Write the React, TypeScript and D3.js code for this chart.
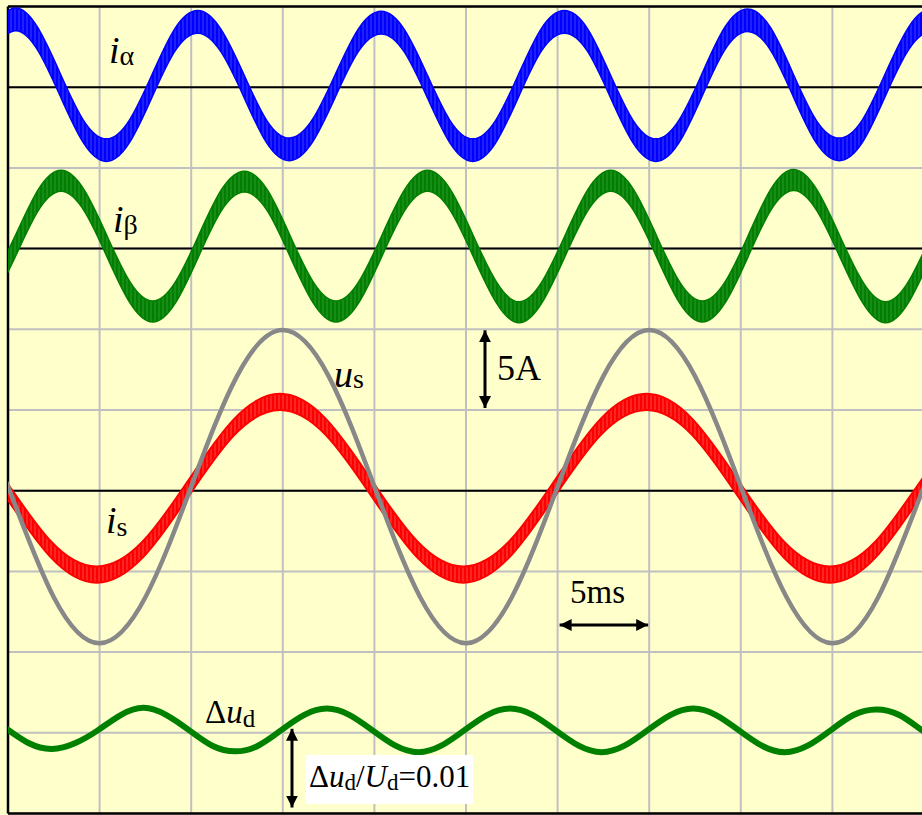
import React from "react";
import * as d3 from "d3";

const W = 922;
const H = 815;

// Axis grid: 10 divisions of 5 ms horizontally, 10 divisions vertically
const timeTicksMs = [0, 5, 10, 15, 20, 25, 30, 35, 40, 45, 50];
const divisionTicks = [0, 1, 2, 3, 4, 5, 6, 7, 8, 9, 10];
const blackBaselines = [9, 7, 4];

// Channel zero levels (in divisions)
const iAlphaBase = 9;
const iBetaBase = 7;
const sBase = 4;
const dudBase = 1;

// i_alpha (divisions), samples every 1.25 ms starting at -0.88 ms
const iAlphaStart = -0.88;
const iAlphaStep = 1.25;
const iAlphaValues = [
  0.6, 0.84, 0.6, 0.02, -0.55, -0.78, -0.55, 0.02,
  0.59, 0.81, 0.58, 0.02, -0.55, -0.77, -0.54, 0.02,
  0.58, 0.8, 0.58, 0.02, -0.55, -0.78, -0.55, 0.02,
  0.59, 0.81, 0.59, 0.02, -0.55, -0.78, -0.55, 0.02,
  0.6, 0.83, 0.6, 0.02, -0.55, -0.77, -0.55, 0.02,
  0.59, 0.82, 0.59,
];
const iAlphaRipple = 0.14;

// i_beta (divisions), samples every 1.25 ms starting at -0.85 ms
const iBetaStart = -0.85;
const iBetaStep = 1.25;
const iBetaValues = [
  -0.54, 0.03, 0.6, 0.84, 0.6, 0.03, -0.54, -0.78,
  -0.54, 0.03, 0.6, 0.83, 0.6, 0.03, -0.54, -0.78,
  -0.54, 0.03, 0.6, 0.84, 0.6, 0.03, -0.54, -0.79,
  -0.54, 0.03, 0.6, 0.84, 0.6, 0.03, -0.54, -0.78,
  -0.54, 0.03, 0.61, 0.85, 0.6, 0.03, -0.54, -0.79,
  -0.54, 0.03, 0.6,
];
const iBetaRipple = 0.13;

// i_s (divisions), samples every 2.5 ms starting at -2.65 ms
const isStart = -2.65;
const isStep = 2.5;
const isValues = [
  0.79, 0.03, -0.73, -1.04, -0.73, 0.03, 0.79, 1.1,
  0.79, 0.03, -0.73, -1.04, -0.73, 0.03, 0.79, 1.1,
  0.79, 0.03, -0.73, -1.04, -0.73, 0.03, 0.79,
];
const isRipple = 0.1;

// u_s (divisions), samples every 2.5 ms starting at -2.5 ms
const usStart = -2.5;
const usStep = 2.5;
const usValues = [
  1.42, 0.05, -1.32, -1.89, -1.32, 0.05, 1.42, 1.99,
  1.42, 0.05, -1.32, -1.89, -1.32, 0.05, 1.42, 1.99,
  1.42, 0.05, -1.32, -1.89, -1.32, 0.05, 1.42,
];

// delta u_d (divisions), samples every 1.25 ms starting at -1.35 ms
const dudStart = -1.35;
const dudStep = 1.25;
const dudValues = [
  0.2, 0.05, -0.13, -0.2, -0.13, 0.03, 0.22, 0.31,
  0.22, 0.03, -0.16, -0.23, -0.16, 0.03, 0.22, 0.3,
  0.22, 0.03, -0.16, -0.24, -0.16, 0.03, 0.22, 0.3,
  0.22, 0.03, -0.16, -0.24, -0.16, 0.03, 0.22, 0.3,
  0.22, 0.03, -0.16, -0.24, -0.16, 0.03, 0.22, 0.29,
  0.22, 0.03, -0.16,
];

type Pt = { t: number; v: number };
const toPoints = (start: number, step: number, vals: number[], base: number): Pt[] =>
  vals.map((v, i) => ({ t: start + i * step, v: base + v }));

const FONT = "'Liberation Serif', 'Times New Roman', serif";

export default function App() {
  const x = d3.scaleLinear().domain([0, 50]).range([8, 924]);
  const y = d3.scaleLinear().domain([0, 10]).range([813.5, 6.5]);

  const line = d3
    .line<Pt>()
    .x((d) => x(d.t))
    .y((d) => y(d.v))
    .curve(d3.curveNatural);

  const band = (ripple: number) =>
    d3
      .area<Pt>()
      .x((d) => x(d.t))
      .y0((d) => y(d.v - ripple))
      .y1((d) => y(d.v + ripple))
      .curve(d3.curveNatural);

  const alphaPts = toPoints(iAlphaStart, iAlphaStep, iAlphaValues, iAlphaBase);
  const betaPts = toPoints(iBetaStart, iBetaStep, iBetaValues, iBetaBase);
  const isPts = toPoints(isStart, isStep, isValues, sBase);
  const usPts = toPoints(usStart, usStep, usValues, sBase);
  const dudPts = toPoints(dudStart, dudStep, dudValues, dudBase);

  const x0 = x(0);
  const x1 = x(50);
  const yTop = y(10);
  const yBot = y(0);

  return (
    <svg
      width={W}
      height={H}
      viewBox={`0 0 ${W} ${H}`}
      style={{ position: "absolute", left: 0, top: 0, display: "block" }}
      fontFamily={FONT}
    >
      <defs>
        <clipPath id="frame">
          <rect x={x0} y={yTop} width={x1 - x0} height={yBot - yTop} />
        </clipPath>
        <pattern id="ripB" width={4} height={20} patternUnits="userSpaceOnUse">
          <rect width={4} height={20} fill="#0000ff" />
          <rect x={2.6} width={0.8} height={20} fill="#4c4cff" />
        </pattern>
        <pattern id="ripG" width={4} height={20} patternUnits="userSpaceOnUse">
          <rect width={4} height={20} fill="#007f00" />
          <rect x={2.6} width={0.8} height={20} fill="#3d9d3d" />
        </pattern>
        <pattern id="ripR" width={4} height={20} patternUnits="userSpaceOnUse">
          <rect width={4} height={20} fill="#ff0000" />
          <rect x={2.6} width={0.8} height={20} fill="#ff5a5a" />
        </pattern>
        <marker
          id="head"
          viewBox="0 0 12 12"
          refX={12}
          refY={6}
          markerWidth={12}
          markerHeight={12}
          markerUnits="userSpaceOnUse"
          orient="auto-start-reverse"
        >
          <path d="M0,0 L12,6 L0,12 z" fill="#000" />
        </marker>
      </defs>

      <rect x={0} y={0} width={W} height={H} fill="#ffffcc" />

      {/* grid */}
      {timeTicksMs.map((t) => (
        <line key={"v" + t} x1={x(t)} x2={x(t)} y1={yTop} y2={yBot} stroke="#c0c0c0" strokeWidth={2} />
      ))}
      {divisionTicks.map((d) => (
        <line key={"h" + d} x1={x0} x2={x1} y1={y(d)} y2={y(d)} stroke="#c0c0c0" strokeWidth={2} />
      ))}
      {blackBaselines.map((d) => (
        <line key={"b" + d} x1={x0} x2={x1} y1={y(d)} y2={y(d)} stroke="#000" strokeWidth={2} />
      ))}
      {/* frame */}
      <line x1={x0} x2={x1} y1={yTop} y2={yTop} stroke="#000" strokeWidth={2.5} />
      <line x1={x0} x2={x1} y1={yBot} y2={yBot} stroke="#000" strokeWidth={2.5} />
      <line x1={x0} x2={x0} y1={yTop} y2={yBot} stroke="#000" strokeWidth={2.5} />

      <g clipPath="url(#frame)">
        <path d={band(iAlphaRipple)(alphaPts) || ""} fill="url(#ripB)" stroke="#0000ff" strokeWidth={1.5} />
        <path d={band(iBetaRipple)(betaPts) || ""} fill="url(#ripG)" stroke="#007f00" strokeWidth={1.5} />
        <path d={band(isRipple)(isPts) || ""} fill="url(#ripR)" stroke="#ff0000" strokeWidth={2} />
        <path d={line(usPts) || ""} fill="none" stroke="#888888" strokeWidth={4.5} />
        <path d={line(dudPts) || ""} fill="none" stroke="#008000" strokeWidth={6} />
      </g>

      {/* labels */}
      <text x={109} y={63} fontSize={38} fill="#000">
        <tspan fontStyle="italic">i</tspan>
        <tspan fontSize={28} dy={2}>α</tspan>
      </text>
      <text x={113} y={232} fontSize={38} fill="#000">
        <tspan fontStyle="italic">i</tspan>
        <tspan fontSize={28} dy={2}>β</tspan>
      </text>
      <text x={334} y={387} fontSize={38} fill="#000">
        <tspan fontStyle="italic">u</tspan>
        <tspan fontSize={28} dy={1}>s</tspan>
      </text>
      <text x={106} y={533} fontSize={38} fill="#000">
        <tspan fontStyle="italic">i</tspan>
        <tspan fontSize={28} dy={3}>s</tspan>
      </text>
      <text x={497} y={380} fontSize={36} fill="#000">5A</text>
      <text x={570} y={603} fontSize={33} fill="#000">5ms</text>
      <text x={205} y={723} fontSize={33} fill="#000">
        Δ<tspan fontStyle="italic">u</tspan>
        <tspan fontSize={25} dy={4}>d</tspan>
      </text>

      <rect x={306} y={755} width={167} height={49} fill="#ffffff" />
      <text x={309} y={787} fontSize={31} fill="#000">
        Δ<tspan fontStyle="italic">u</tspan>
        <tspan fontSize={23} dy={3}>d</tspan>
        <tspan dy={-3}>/</tspan>
        <tspan fontStyle="italic">U</tspan>
        <tspan fontSize={23} dy={3}>d</tspan>
        <tspan dy={-3}>=0.01</tspan>
      </text>

      {/* scale arrows */}
      <line
        x1={485} x2={485} y1={y(6) + 1} y2={y(5) - 2}
        stroke="#000" strokeWidth={3}
        markerStart="url(#head)" markerEnd="url(#head)"
      />
      <line
        x1={x(30) + 2} x2={x(35) - 1} y1={625} y2={625}
        stroke="#000" strokeWidth={3}
        markerStart="url(#head)" markerEnd="url(#head)"
      />
      <line
        x1={292} x2={292} y1={y(1) - 4} y2={y(0) - 6}
        stroke="#000" strokeWidth={3}
        markerStart="url(#head)" markerEnd="url(#head)"
      />
    </svg>
  );
}
